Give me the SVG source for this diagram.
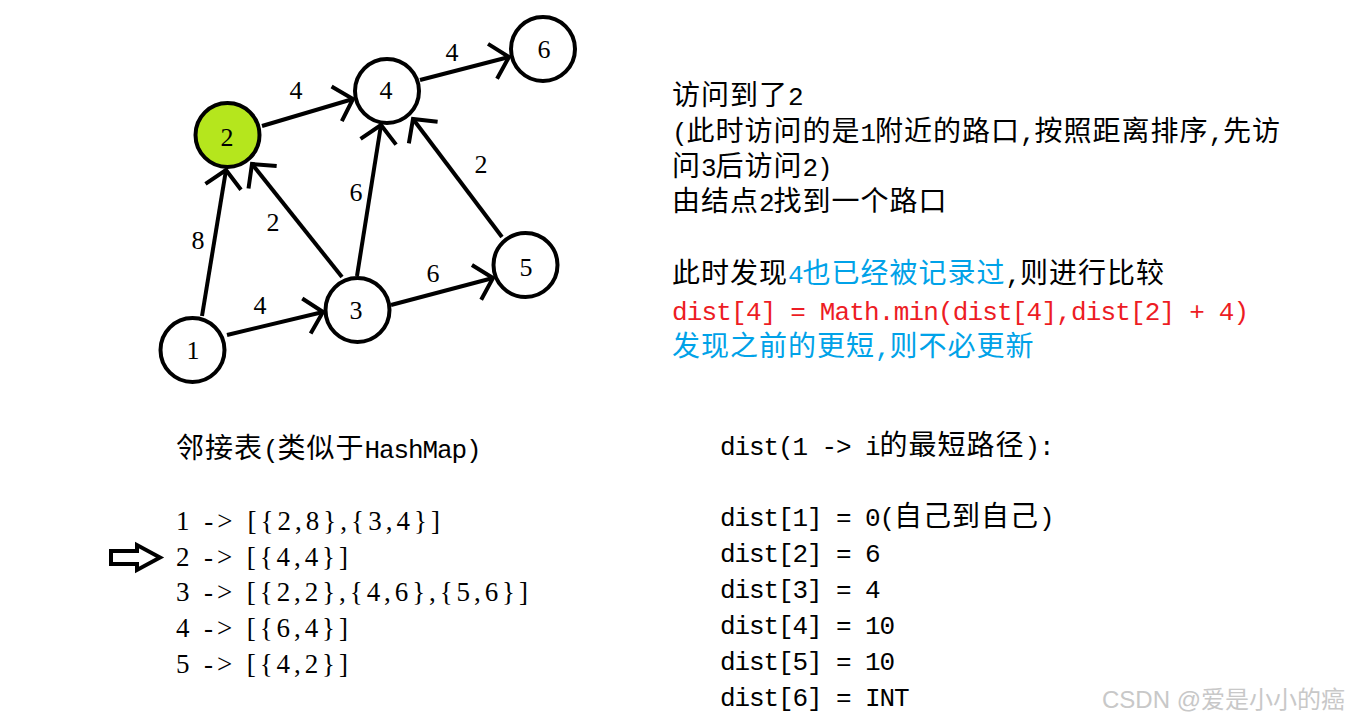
<svg xmlns="http://www.w3.org/2000/svg" width="1366" height="724" viewBox="0 0 1366 724">
<style>
.node{fill:#fff;stroke:#000;stroke-width:4}
.edge{stroke:#000;stroke-width:4;fill:none}
.nl{font-family:"Liberation Serif",serif;font-size:26px;text-anchor:middle;fill:#000}
.el{font-family:"Liberation Serif",serif;font-size:26px;text-anchor:middle;fill:#000}
.t{font-family:"Noto Sans CJK SC",sans-serif;font-size:28px;letter-spacing:1px;fill:#000}
.m{font-family:"Liberation Mono",monospace;font-size:26px;letter-spacing:-1.1px}
.adj{font-family:"Liberation Serif",serif;font-size:27px;fill:#000}
.blue{fill:#00A2E8}
.red{fill:#ED1C24}
.wm{font-family:"Liberation Sans","Noto Sans CJK SC",sans-serif;font-size:24px;fill:#c8c8c8}
</style>
<defs>
<marker id="ah" markerUnits="userSpaceOnUse" orient="auto" refX="0" refY="0" markerWidth="40" markerHeight="40" overflow="visible">
<path d="M-17,-18 L0,0 L-17,18" fill="none" stroke="#000" stroke-width="4"/>
</marker>
</defs>
<rect width="1366" height="724" fill="#fff"/>
<g id="connectors">
<line class="edge" x1="202" y1="316" x2="226" y2="170" marker-end="url(#ah)"/>
<line class="edge" x1="227" y1="335" x2="323" y2="312" marker-end="url(#ah)"/>
<line class="edge" x1="342" y1="277" x2="252" y2="164" marker-end="url(#ah)"/>
<line class="edge" x1="357" y1="276" x2="381" y2="125" marker-end="url(#ah)"/>
<line class="edge" x1="391" y1="305" x2="493" y2="278" marker-end="url(#ah)"/>
<line class="edge" x1="502" y1="237" x2="413" y2="119" marker-end="url(#ah)"/>
<line class="edge" x1="262" y1="126" x2="353" y2="99" marker-end="url(#ah)"/>
<line class="edge" x1="420" y1="80" x2="509" y2="57" marker-end="url(#ah)"/>
<text class="el" x="198" y="249">8</text>
<text class="el" x="260" y="314">4</text>
<text class="el" x="273" y="231">2</text>
<text class="el" x="356" y="201">6</text>
<text class="el" x="433" y="282">6</text>
<text class="el" x="481" y="173">2</text>
<text class="el" x="296" y="99">4</text>
<text class="el" x="452" y="61">4</text>
</g>
<g id="node1"><circle class="node" cx="192.5" cy="350" r="32"/><text class="nl" x="193" y="359">1</text></g>
<g id="node2"><circle class="node" cx="227.5" cy="135" r="32" style="fill:#B5E61D"/><text class="nl" x="227" y="146">2</text></g>
<g id="node3"><circle class="node" cx="357.5" cy="310" r="32"/><text class="nl" x="356" y="319">3</text></g>
<g id="node4"><circle class="node" cx="387" cy="91" r="32"/><text class="nl" x="386" y="99">4</text></g>
<g id="node5"><circle class="node" cx="525.5" cy="265" r="32"/><text class="nl" x="526" y="276">5</text></g>
<g id="node6"><circle class="node" cx="543" cy="49" r="32"/><text class="nl" x="544" y="58">6</text></g>

<g id="explanation">
<text class="t" x="672" y="105">访问到了<tspan class="m">2</tspan></text>
<text class="t" x="672" y="141"><tspan class="m">(</tspan>此时访问的是<tspan class="m">1</tspan>附近的路口<tspan class="m">,</tspan>按照距离排序<tspan class="m">,</tspan>先访</text>
<text class="t" x="672" y="176">问<tspan class="m">3</tspan>后访问<tspan class="m">2)</tspan></text>
<text class="t" x="672" y="211">由结点<tspan class="m">2</tspan>找到一个路口</text>
<text class="t" x="672" y="283">此时发现<tspan class="blue"><tspan class="m">4</tspan>也已经被记录过</tspan><tspan class="m">,</tspan>则进行比较</text>
<text class="t red" x="672" y="320"><tspan class="m" textLength="576" lengthAdjust="spacing">dist[4] = Math.min(dist[4],dist[2] + 4)</tspan></text>
<text class="t blue" x="672" y="356">发现之前的更短<tspan class="m">,</tspan>则不必更新</text>
</g>

<g id="adjacency">
<text class="t" x="176" y="458">邻接表<tspan class="m">(</tspan>类似于<tspan class="m">HashMap)</tspan></text>
<text class="adj" x="176" y="530" textLength="264" lengthAdjust="spacing">1 -&gt; [{2,8},{3,4}]</text>
<text class="adj" x="176" y="566" textLength="172" lengthAdjust="spacing">2 -&gt; [{4,4}]</text>
<text class="adj" x="176" y="601" textLength="352" lengthAdjust="spacing">3 -&gt; [{2,2},{4,6},{5,6}]</text>
<text class="adj" x="176" y="637" textLength="172" lengthAdjust="spacing">4 -&gt; [{6,4}]</text>
<text class="adj" x="176" y="673" textLength="172" lengthAdjust="spacing">5 -&gt; [{4,2}]</text>
</g>
<g id="pointer">
<polygon points="111,551 137,551 137,545 160,557.5 137,570 137,564 111,564" fill="#fff" stroke="#000" stroke-width="4"/>
</g>

<g id="dist">
<text class="t" x="720" y="455"><tspan class="m">dist(1 -&gt; i</tspan>的最短路径<tspan class="m">):</tspan></text>
<text class="t" x="720" y="526"><tspan class="m">dist[1] = 0(</tspan>自己到自己<tspan class="m">)</tspan></text>
<text class="t" x="720" y="562"><tspan class="m">dist[2] = 6</tspan></text>
<text class="t" x="720" y="598"><tspan class="m">dist[3] = 4</tspan></text>
<text class="t" x="720" y="634"><tspan class="m">dist[4] = 10</tspan></text>
<text class="t" x="720" y="670"><tspan class="m">dist[5] = 10</tspan></text>
<text class="t" x="720" y="706"><tspan class="m">dist[6] = INT</tspan></text>
</g>
<text class="wm" x="1102" y="708">CSDN @爱是小小的癌</text>
</svg>
